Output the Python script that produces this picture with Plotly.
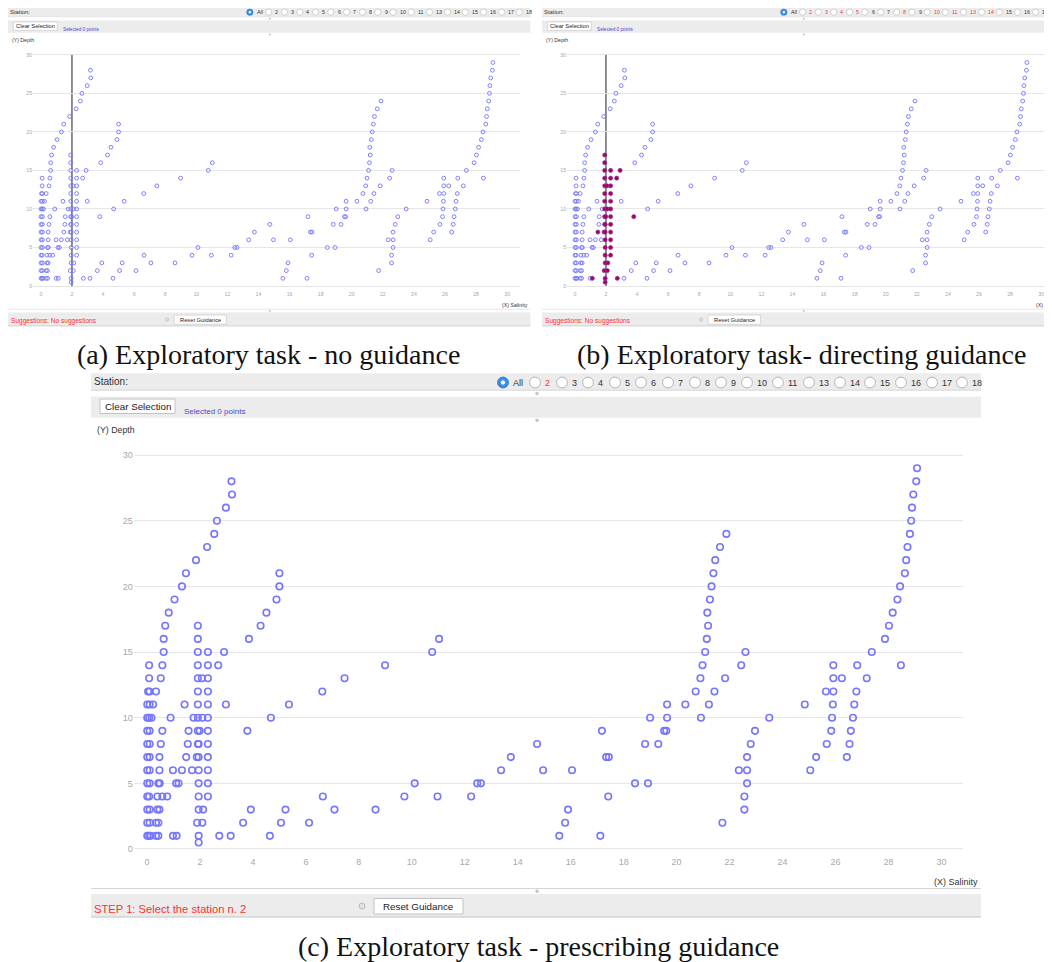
import plotly.graph_objects as go

# Page body has an 8px margin: figure is placed at (8, 8) in the 1052x962 window.
OFF = 8.0
W, H = 1044, 954

# ---------------- DATA ----------------
# points of station 2 (highlighted in panel b)
st2_salinity = [1.92,
                1.92,
                1.92, 2.30, 2.91,
                1.92, 2.30, 2.69,
                1.92, 2.07, 2.30,
                1.92, 2.30,
                1.92, 2.30,
                1.92, 2.09, 2.30,
                1.92, 1.99, 2.30, 3.79,
                1.92, 1.95, 2.30,
                1.48, 1.88, 1.95, 2.30,
                1.95, 2.30,
                1.95, 2.30,
                1.95, 2.30,
                1.95, 2.12,
                1.89, 2.09,
                1.12, 1.95, 2.73,
                1.95]
st2_depth = [17,
             16,
             15, 15, 15,
             14, 14, 14,
             13, 13, 13,
             12, 12,
             11, 11,
             10, 10, 10,
             9, 9, 9, 9,
             8, 8, 8,
             7, 7, 7, 7,
             6, 6,
             5, 5,
             4, 4,
             3, 3,
             2, 2,
             1, 1, 1,
             0.5]

# all other stations
other_salinity = [29.08,
                  3.19, 29.05,
                  3.21, 28.94,
                  2.98, 28.89,
                  2.64, 28.86,
                  2.54, 21.88, 28.81,
                  2.27, 21.64, 28.72,
                  1.85, 21.46, 28.67,
                  1.47, 5.00, 21.39, 28.62,
                  1.32, 5.00, 21.32, 28.44,
                  1.04, 4.89, 21.26, 28.34,
                  0.82, 4.51, 21.16, 28.16,
                  0.69, 4.29, 21.19, 28.02,
                  0.63, 3.85, 11.03, 21.14, 27.87,
                  0.63, 10.77, 21.08, 22.60, 27.37,
                  0.08, 0.58, 8.99, 20.98, 22.44, 25.92, 26.82, 28.47,
                  0.08, 0.52, 7.46, 20.90, 21.83, 25.92, 26.24, 27.18,
                  0.04, 0.10, 0.34, 6.62, 20.72, 21.43, 25.64, 25.92, 26.79,
                  0.01, 0.10, 0.23, 1.42, 2.98, 5.36, 19.64, 20.33, 21.22, 24.84, 25.90, 26.71,
                  0.01, 0.08, 0.17, 0.89, 1.76, 4.68, 19.00, 19.64, 20.92, 23.50, 25.87, 26.66,
                  0.01, 0.10, 0.58, 1.57, 17.18, 19.53, 19.61, 22.96, 25.84, 26.58,
                  0.01, 0.10, 0.52, 1.54, 14.73, 18.81, 19.31, 22.80, 25.67, 26.53,
                  0.01, 0.10, 0.47, 13.74, 17.34, 17.44, 22.66, 25.27, 26.43,
                  0.01, 0.10, 0.47, 0.98, 1.32, 1.70, 13.37, 14.96, 16.05, 22.35, 22.66, 25.05,
                  0.01, 0.10, 0.43, 0.48, 1.10, 1.19, 10.11, 12.47, 12.61, 18.43, 18.92, 22.66,
                  0.01, 0.08, 0.39, 0.58, 0.76, 6.64, 9.72, 10.97, 12.24, 17.42, 22.56,
                  0.01, 0.10, 0.39, 0.47, 3.92, 5.23, 7.08, 8.63, 15.90, 22.56,
                  0.01, 0.10, 0.34, 0.43, 3.63, 5.06, 6.12, 15.79, 21.73,
                  0.01, 0.08, 0.14, 0.34, 0.43, 0.98, 3.16, 4.64, 15.57, 17.12]
other_depth = [29,
               28, 28,
               27, 27,
               26, 26,
               25, 25,
               24, 24, 24,
               23, 23, 23,
               22, 22, 22,
               21, 21, 21, 21,
               20, 20, 20, 20,
               19, 19, 19, 19,
               18, 18, 18, 18,
               17, 17, 17, 17,
               16, 16, 16, 16, 16,
               15, 15, 15, 15, 15,
               14, 14, 14, 14, 14, 14, 14, 14,
               13, 13, 13, 13, 13, 13, 13, 13,
               12, 12, 12, 12, 12, 12, 12, 12, 12,
               11, 11, 11, 11, 11, 11, 11, 11, 11, 11, 11, 11,
               10, 10, 10, 10, 10, 10, 10, 10, 10, 10, 10, 10,
               9, 9, 9, 9, 9, 9, 9, 9, 9, 9,
               8, 8, 8, 8, 8, 8, 8, 8, 8, 8,
               7, 7, 7, 7, 7, 7, 7, 7, 7,
               6, 6, 6, 6, 6, 6, 6, 6, 6, 6, 6, 6,
               5, 5, 5, 5, 5, 5, 5, 5, 5, 5, 5, 5,
               4, 4, 4, 4, 4, 4, 4, 4, 4, 4, 4,
               3, 3, 3, 3, 3, 3, 3, 3, 3, 3,
               2, 2, 2, 2, 2, 2, 2, 2, 2,
               1, 1, 1, 1, 1, 1, 1, 1, 1, 1]

station_labels = ["All", "2", "3", "4", "5", "6", "7", "8", "9", "10", "11",
                  "13", "14", "15", "16", "17", "18"]
red_stations_b = ["2", "3", "4", "5", "8", "10", "11", "13", "14"]
red_stations_c = ["2"]
x_tick_vals = list(range(0, 31, 2))
y_tick_vals = [0, 5, 10, 15, 20, 25, 30]
selected_value = 2
captions = ["(a) Exploratory task - no guidance",
            "(b) Exploratory task- directing guidance",
            "(c) Exploratory task - prescribing guidance"]
bottom_messages = ["Suggestions: No suggestions",
                   "Suggestions: No suggestions",
                   "STEP 1: Select the station n. 2"]

# ---------------- LAYOUT HELPERS ----------------
UI = "Liberation Sans, Arial, sans-serif"
SERIF = "Liberation Serif, DejaVu Serif, serif"

panels = [
    dict(ox=8.0, oy=6.8, s=0.587, ax="", red=[], vline=True, hi=False, cap=(268.5, 355)),
    dict(ox=542.0, oy=6.8, s=0.587, ax="2", red=red_stations_b, vline=True, hi=True, cap=(801, 355)),
    dict(ox=91.0, oy=373.3, s=1.0, ax="3", red=red_stations_c, vline=False, hi=False, cap=(538, 946)),
]

shapes = []
annotations = []

# c-panel pixel mapping for data: px = X0C + x*KX ; py = Y0C - y*KY (screen px)
X0C, KX = 147.0, 26.48
Y0C, KY = 849.0, 13.13


def PX(sx):
    return (sx - OFF) / W


def PY(sy):
    return 1 - (sy - OFF) / H


def T(p, x, y):
    return p["ox"] + (x - 91.0) * p["s"], p["oy"] + (y - 373.3) * p["s"]


def rect(p, x0, y0, x1, y1, fill, line=None, lw=1.0):
    X0, Y0 = T(p, x0, y0)
    X1, Y1 = T(p, x1, y1)
    shapes.append(dict(type="rect", xref="paper", yref="paper",
                       x0=PX(X0), x1=PX(X1), y0=PY(Y1), y1=PY(Y0),
                       fillcolor=fill,
                       line=dict(color=line if line else fill, width=(lw * p["s"]) if line else 0),
                       layer="below"))


def hline(p, x0, x1, y, color, lw=1.0):
    X0, Y = T(p, x0, y)
    X1, _ = T(p, x1, y)
    shapes.append(dict(type="line", xref="paper", yref="paper",
                       x0=PX(X0), x1=PX(X1), y0=PY(Y), y1=PY(Y),
                       line=dict(color=color, width=lw * p["s"]), layer="below"))


def circle(p, cx, cy, r, fill, line, lw=1.0):
    X, Y = T(p, cx, cy)
    R = r * p["s"]
    shapes.append(dict(type="circle", xref="paper", yref="paper",
                       x0=PX(X - R), x1=PX(X + R), y0=PY(Y + R), y1=PY(Y - R),
                       fillcolor=fill, line=dict(color=line, width=lw * p["s"]), layer="above"))


def text(p, x, y, t, size, color="#333333", family=UI, xanchor="left"):
    X, Y = T(p, x, y)
    annotations.append(dict(xref="paper", yref="paper", x=PX(X), y=PY(Y), text=t,
                            showarrow=False, xanchor=xanchor, yanchor="middle",
                            font=dict(size=size * p["s"], color=color, family=family)))


radio_centers = [503, 535, 562, 588, 615, 641, 668, 695, 721, 747, 778, 809, 840, 870, 901, 932, 962]

fig = go.Figure()

for i, p in enumerate(panels):
    s = p["s"]
    # top band
    rect(p, 91, 373.3, 981, 390, "#ececec")
    hline(p, 91, 981, 390.2, "#d6d6d6", 1)
    text(p, 91.5, 381.5, "Station:", 10)
    for lab, cx in zip(station_labels, radio_centers):
        if lab == "All":
            circle(p, cx, 382.5, 5.4, "#3a8ee6", "#2b7bd6", 1)
            circle(p, cx, 382.5, 1.9, "#ffffff", "#ffffff", 0.5)
        else:
            circle(p, cx, 382.5, 5.4, "#ffffff", "#b4b4b4", 1)
        col = "#ff3333" if lab in p["red"] else "#333333"
        text(p, cx + 8, 382.8, lab, 9, col, UI)
    circle(p, 537, 393.6, 1.5, "#c4c4c4", "#c4c4c4", 0.5)
    # second band
    rect(p, 91, 396.7, 981, 417.7, "#ececec")
    rect(p, 100, 399, 175, 413.5, "#ffffff", "#c2c2c2", 1)
    text(p, 137.5, 406.3, "Clear Selection", 9.8, "#222222", UI, "center")
    text(p, 181.5, 411.8, "Selected 0 points", 8, "#4a4ad0", UI)
    circle(p, 537, 420.3, 1.5, "#c4c4c4", "#c4c4c4", 0.5)
    text(p, 94.5, 429.5, "(Y) Depth", 8.8)
    # x axis title
    text(p, 980, 882, "(X) Salinity", 9, "#333333", UI, "right")
    # bottom band
    hline(p, 91, 981, 888.5, "#d4d4d4", 1)
    circle(p, 537, 891.3, 1.5, "#c4c4c4", "#c4c4c4", 0.5)
    rect(p, 91, 894, 981, 917, "#ececec")
    hline(p, 91, 981, 917, "#c4c4c4", 1.2)
    text(p, 92, 908.5, bottom_messages[i], 11.2, "#ff3030", UI)
    circle(p, 362, 906, 3, "#e0e0e0", "#b0b0b0", 0.8)
    rect(p, 374, 898.5, 463, 914, "#ffffff", "#c2c2c2", 1)
    text(p, 418.5, 906.3, "Reset Guidance", 9.8, "#222222", UI, "center")

    # plot axes: domain in pixels, range derived from the same pixel mapping
    xr = [-0.5, 30.8]
    yr = [-0.45, 30.4]
    dx0, dy0 = T(p, X0C + xr[0] * KX, Y0C - yr[1] * KY)
    dx1, dy1 = T(p, X0C + xr[1] * KX, Y0C - yr[0] * KY)
    if dx1 > W + OFF:
        dx1 = W + OFF
        xr = [xr[0], ((dx1 - p["ox"]) / s + 91.0 - X0C) / KX]
    xa = "xaxis" + p["ax"]
    ya = "yaxis" + p["ax"]
    xref = "x" + p["ax"]
    yref = "y" + p["ax"]
    fig.update_layout(**{
        xa: dict(domain=[PX(dx0), PX(dx1)], range=xr, anchor=yref, tickvals=x_tick_vals,
                 showgrid=False, zeroline=False, showline=False, ticks="",
                 tickfont=dict(size=9 * s, color="#a8a8a8", family=UI), fixedrange=True),
        ya: dict(domain=[PY(dy1), PY(dy0)], range=yr, anchor=xref, tickvals=y_tick_vals,
                 showgrid=True, gridcolor="#e6e6e6", gridwidth=1.2 * s, zeroline=False,
                 showline=False, ticks="", tickfont=dict(size=9 * s, color="#a8a8a8", family=UI),
                 fixedrange=True),
    })
    if p["vline"]:
        shapes.append(dict(type="line", xref=xref, yref=yref, x0=selected_value, x1=selected_value,
                           y0=0, y1=30, line=dict(color="#444444", width=1.2), layer="below"))
    msize = 6.5 * s
    mlw = 1.6 * s
    if p["hi"]:
        fig.add_trace(go.Scatter(x=other_salinity, y=other_depth, mode="markers", xaxis=xref, yaxis=yref,
                                 marker=dict(symbol="circle-open", size=msize, color="rgb(118,118,255)",
                                             line=dict(width=mlw)),
                                 hoverinfo="skip", showlegend=False, cliponaxis=False))
        fig.add_trace(go.Scatter(x=st2_salinity, y=st2_depth, mode="markers", xaxis=xref, yaxis=yref,
                                 marker=dict(symbol="circle", size=msize + 0.4, color="#b0005e",
                                             line=dict(width=0.6, color="#7a3aa0")),
                                 hoverinfo="skip", showlegend=False, cliponaxis=False))
    else:
        fig.add_trace(go.Scatter(x=other_salinity + st2_salinity, y=other_depth + st2_depth,
                                 mode="markers", xaxis=xref, yaxis=yref,
                                 marker=dict(symbol="circle-open", size=msize, color="rgb(118,118,255)",
                                             line=dict(width=mlw)),
                                 hoverinfo="skip", showlegend=False, cliponaxis=False))
    # caption
    cx, cy = p["cap"]
    annotations.append(dict(xref="paper", yref="paper", x=PX(cx), y=PY(cy), text=captions[i],
                            showarrow=False, xanchor="center", yanchor="middle",
                            font=dict(size=28, color="#111111", family=SERIF)))

fig.update_layout(width=W, height=H, autosize=False,
                  margin=dict(l=0, r=0, t=0, b=0),
                  paper_bgcolor="white", plot_bgcolor="rgba(0,0,0,0)",
                  shapes=shapes, annotations=annotations, showlegend=False)

fig.write_html("out.html")
